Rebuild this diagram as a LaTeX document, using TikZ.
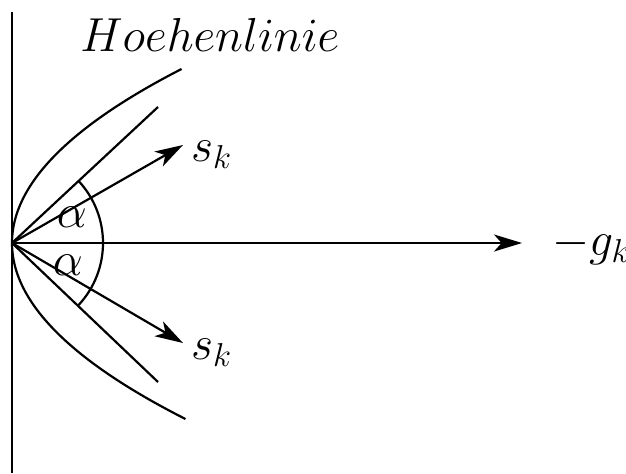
\documentclass[tikz,border=0pt]{standalone}
\usetikzlibrary{arrows.meta}
\newcommand{\bigtxt}[1]{\scalebox{1.15}{#1}}
\begin{document}
\begin{tikzpicture}[x=0.5pt,y=0.5pt,line width=1.1pt,
  lbl/.style={font=\huge, inner sep=0pt},
  vec/.style={-{Stealth[length=14pt,width=8.5pt,inset=3.8pt]}}]
\useasboundingbox (0,0) rectangle (626,473);
\coordinate (O) at (12,230);
\coordinate (axtop) at (12,461);
\coordinate (axbot) at (12,0);
\coordinate (gtip) at (522,230);
\coordinate (lu) at (158,366);
\coordinate (ll) at (158,91);
\coordinate (su) at (183,328);
\coordinate (sl) at (183,130);
\draw (axbot) -- (axtop);
\draw[vec] (O) -- (gtip);
\draw plot[domain=-176:174, samples=80, smooth] ({12+(0.07483*\x)*(0.07483*\x)},{230+\x});
\draw (O) -- (lu);
\draw (O) -- (ll);
\draw[vec] (O) -- (su);
\draw[vec] (O) -- (sl);
\draw ([shift={(43:91)}]O) arc[start angle=43, end angle=-43, radius=45.5pt];
\node[lbl] (hl) at (210,438) {\bigtxt{$Hoehenlinie$}};
\node[lbl, anchor=west] (g) at (551,227) {\bigtxt{$-g_k$}};
\node[lbl, anchor=west] (s1) at (190,318) {\bigtxt{$s_k$}};
\node[lbl, anchor=west] (s2) at (190,120) {\bigtxt{$s_k$}};
\node[lbl] (a1) at (72,256) {\bigtxt{$\alpha$}};
\node[lbl] (a2) at (68,208) {\bigtxt{$\alpha$}};
\end{tikzpicture}
\end{document}
